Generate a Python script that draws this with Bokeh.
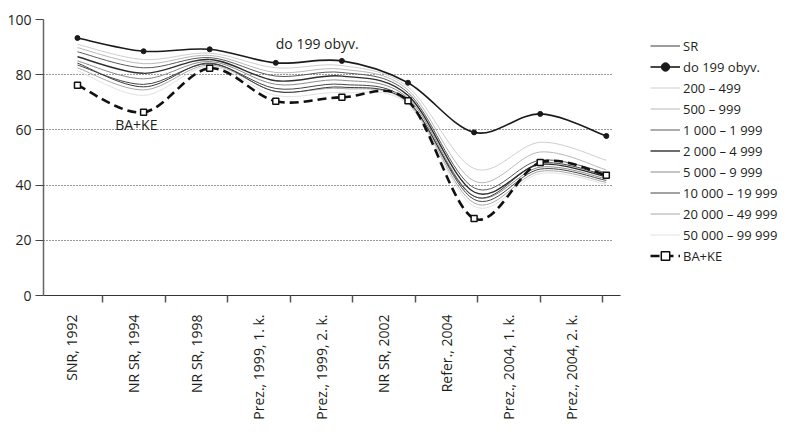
import math
from bokeh.plotting import figure
from bokeh.models import (Range1d, LinearAxis, FixedTicker, Legend, LegendItem,
                          ColumnDataSource, Label, Grid)
from bokeh.embed import file_html
from bokeh.resources import INLINE

# ---------------- data ----------------
categories = ["SNR, 1992", "NR SR, 1994", "NR SR, 1998", "Prez., 1999, 1. k.",
              "Prez., 1999, 2. k.", "NR SR, 2002", "Refer., 2004",
              "Prez., 2004, 1. k.", "Prez., 2004, 2. k."]

sr      = [84.2, 75.6, 84.2, 73.9, 75.5, 70.1, 35.9, 47.9, 43.5]
do199   = [93.3, 88.5, 89.2, 84.3, 85.0, 77.1, 59.1, 65.8, 57.8]
s200    = [91.0, 85.5, 87.8, 82.5, 83.3, 75.5, 46.0, 55.5, 49.0]
s500    = [89.8, 84.0, 87.0, 80.8, 82.0, 74.5, 41.5, 52.0, 45.5]
s1000   = [88.3, 82.5, 86.2, 79.5, 80.8, 73.5, 39.0, 49.0, 44.5]
s2000   = [86.5, 80.5, 85.5, 77.8, 79.5, 72.5, 37.5, 47.5, 43.0]
s5000   = [85.0, 78.5, 84.8, 76.5, 78.0, 71.5, 36.0, 46.5, 42.3]
s10000  = [83.5, 76.5, 84.0, 75.0, 76.5, 70.5, 34.8, 45.8, 41.7]
s20000  = [82.5, 74.5, 83.5, 74.0, 75.0, 69.8, 33.5, 45.0, 41.0]
s50000  = [81.5, 72.5, 83.0, 72.5, 73.5, 69.2, 32.3, 44.2, 40.3]
bake    = [76.2, 66.4, 82.3, 70.4, 71.8, 70.6, 27.9, 48.2, 43.6]

series_names = ["SR", "do 199 obyv.", "200 – 499", "500 – 999", "1 000 – 1 999",
                "2 000 – 4 999", "5 000 – 9 999", "10 000 – 19 999",
                "20 000 – 49 999", "50 000 – 99 999", "BA+KE"]
y_ticks = [0, 20, 40, 60, 80, 100]

FONT = "Open Sans"
FS = "14px"
LFS = "13px"
TXT = "#231f20"

# frame spans the legend area too; axis line and grid are bounded
X_START, X_END = -0.514, 10.635
GRID_END = 8.094
CAT_START, CAT_END = 0.056, 11.848
CAT_AXIS_END = 9.288

p = figure(width=780, height=430, output_backend="svg", toolbar_location=None,
           x_range=Range1d(X_START, X_END), y_range=Range1d(0, 100),
           x_axis_type=None, y_axis_type=None,
           min_border_left=43, min_border_top=19,
           min_border_right=0, min_border_bottom=135)
p.outline_line_color = None
p.background_fill_color = "white"
p.xgrid.visible = False
p.ygrid.visible = False

p.extra_x_ranges = {"cat": Range1d(CAT_START, CAT_END)}
n = len(categories)
centres = [i + 0.5 for i in range(n)]
bounds = [float(i + 1) for i in range(n)]
xa = LinearAxis(x_range_name="cat", bounds=(CAT_START, CAT_AXIS_END),
                ticker=FixedTicker(ticks=centres, minor_ticks=bounds),
                major_label_overrides={c: lab for c, lab in zip(centres, categories)},
                major_label_orientation=math.pi / 2,
                major_tick_out=0, major_tick_in=0,
                minor_tick_out=7, minor_tick_in=0,
                minor_tick_line_color="#555555", minor_tick_line_width=1.5,
                axis_line_color="#333333", axis_line_width=1.2,
                major_label_text_font=FONT, major_label_text_font_size=FS,
                major_label_text_color=TXT, major_label_standoff=12)
p.add_layout(xa, "below")

ya = LinearAxis(ticker=FixedTicker(ticks=y_ticks),
                major_tick_out=8, major_tick_in=0,
                minor_tick_out=0, minor_tick_in=0,
                axis_line_color="#666666", axis_line_width=1.5,
                major_tick_line_color="#444444", major_tick_line_width=1.2,
                major_label_text_font=FONT, major_label_text_font_size=FS,
                major_label_text_color=TXT, major_label_standoff=4)
p.add_layout(ya, "left")

grid_kw = dict(dimension=1, ticker=FixedTicker(ticks=y_ticks[1:]),
               grid_line_color="#333333", grid_line_dash="1 2",
               grid_line_width=1)
if "cross_bounds" in Grid.properties():
    p.add_layout(Grid(cross_bounds=(X_START, GRID_END), **grid_kw), "center")
else:
    gy = y_ticks[1:]
    p.segment(x0=[X_START] * len(gy), x1=[GRID_END] * len(gy), y0=gy, y1=gy,
              line_color="#333333", line_dash="1 2", line_width=1)


def bezier_source(vals):
    m = len(vals)
    pts = [(float(i), float(v)) for i, v in enumerate(vals)]
    d = dict(x0=[], y0=[], x1=[], y1=[], cx0=[], cy0=[], cx1=[], cy1=[])
    for i in range(m - 1):
        pm = pts[max(i - 1, 0)]
        p0 = pts[i]
        p1 = pts[i + 1]
        p2 = pts[min(i + 2, m - 1)]
        d["x0"].append(p0[0]); d["y0"].append(p0[1])
        d["x1"].append(p1[0]); d["y1"].append(p1[1])
        d["cx0"].append(p0[0] + (p1[0] - pm[0]) / 6)
        d["cy0"].append(p0[1] + (p1[1] - pm[1]) / 6)
        d["cx1"].append(p1[0] - (p2[0] - p0[0]) / 6)
        d["cy1"].append(p1[1] - (p2[1] - p0[1]) / 6)
    return ColumnDataSource(d)


styles = [
    (sr,     "#3a3a3a", 1.0, "solid", None),
    (do199,  "#1a1a1a", 1.6, "solid", "circle"),
    (s200,   "#cfcfcf", 1.0, "solid", None),
    (s500,   "#b8b8b8", 1.0, "solid", None),
    (s1000,  "#5a5a5a", 1.0, "solid", None),
    (s2000,  "#2e2e2e", 1.4, "solid", None),
    (s5000,  "#8c8c8c", 1.0, "solid", None),
    (s10000, "#454545", 1.0, "solid", None),
    (s20000, "#a8a8a8", 1.0, "solid", None),
    (s50000, "#e2e2e2", 1.0, "solid", None),
    (bake,   "#111111", 2.6, "9 5", "square"),
]

xs = list(range(n))
draw_order = [9, 2, 3, 8, 6, 4, 7, 0, 5, 1, 10]
rend_map = {}
for k in draw_order:
    vals, col, w, dash, mk = styles[k]
    src = bezier_source(vals)
    r = p.bezier(x0="x0", y0="y0", x1="x1", y1="y1", cx0="cx0", cy0="cy0",
                 cx1="cx1", cy1="cy1", source=src, line_color=col,
                 line_width=w, line_dash=dash)
    rs = [r]
    if mk == "circle":
        rs.append(p.scatter(xs, vals, marker="circle", size=5,
                            fill_color=col, line_color=col))
    elif mk == "square":
        rs.append(p.scatter(xs, vals, marker="square", size=6,
                            fill_color="white", line_color=col, line_width=1.5))
    rend_map[k] = rs

items = [LegendItem(label=name, renderers=rend_map[k])
         for k, name in enumerate(series_names)]

legend = Legend(items=items, location=(607, 29), padding=0, margin=0,
                spacing=0, label_height=21, glyph_height=21, glyph_width=30,
                label_standoff=3, border_line_color=None,
                background_fill_alpha=0,
                label_text_font=FONT, label_text_font_size=LFS,
                label_text_color=TXT)
p.add_layout(legend, "center")

p.add_layout(Label(x=3.0, y=91.3, text="do 199 obyv.", text_font=FONT,
                   text_font_size=FS, text_color=TXT,
                   text_baseline="middle", text_align="left"))
p.add_layout(Label(x=0.89, y=62.0, text="BA+KE", text_font=FONT,
                   text_font_size=FS, text_color=TXT,
                   text_baseline="middle", text_align="center"))

open("out.html", "w").write(file_html(p, INLINE))
